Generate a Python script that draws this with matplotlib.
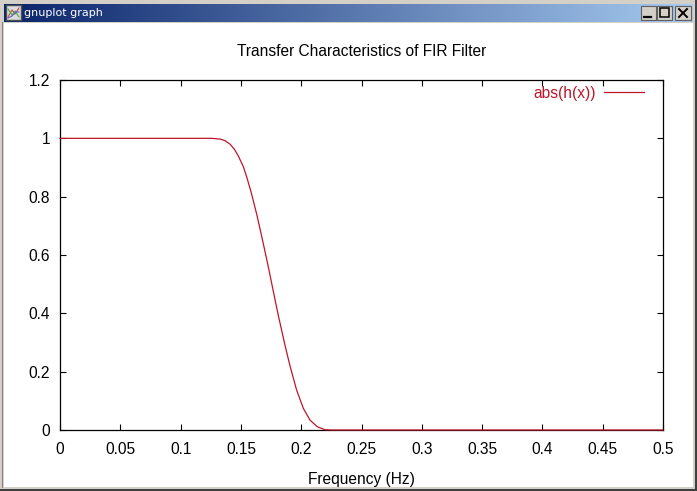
import matplotlib

matplotlib.use("Agg")
import matplotlib.pyplot as plt
import numpy as np
from matplotlib.patches import Rectangle

W, H = 697, 491

freq = [0.0, 0.05, 0.1, 0.125, 0.129, 0.1333, 0.1368, 0.141, 0.1445, 0.1478, 0.152, 0.1548,
        0.1585, 0.1631, 0.1672, 0.1722, 0.1769, 0.181, 0.1866, 0.1907, 0.1962, 0.2018,
        0.2073, 0.2134, 0.2197, 0.225, 0.3, 0.4, 0.5]
gain = [1.0, 1.0, 1.0, 1.0, 0.999, 0.997, 0.992, 0.98, 0.963, 0.94, 0.903, 0.868,
        0.815, 0.74, 0.665, 0.57, 0.475, 0.393, 0.29, 0.22, 0.137, 0.074,
        0.034, 0.011, 0.001, 0.0, 0.0, 0.0, 0.0]
x_ticks = [0, 0.05, 0.1, 0.15, 0.2, 0.25, 0.3, 0.35, 0.4, 0.45, 0.5]
x_labels = ["0", "0.05", "0.1", "0.15", "0.2", "0.25", "0.3", "0.35", "0.4", "0.45", "0.5"]
y_ticks = [0, 0.2, 0.4, 0.6, 0.8, 1, 1.2]
y_labels = ["0", "0.2", "0.4", "0.6", "0.8", "1", "1.2"]

RED = "#bf1528"
plt.rcParams["font.family"] = ["Liberation Sans", "DejaVu Sans"]


def draw_window(fig):
    # window frame, in pixel coordinates over the whole figure
    win = fig.add_axes([0, 0, 1, 1], zorder=0)
    win.set_xlim(0, W)
    win.set_ylim(H, 0)
    win.axis("off")
    win.add_patch(Rectangle((0, 0), W, H, color="#d4d0c8", lw=0))
    win.add_patch(Rectangle((0, H - 2), W, 2, color="#404040", lw=0))
    win.add_patch(Rectangle((W - 2, 0), 2, H, color="#404040", lw=0))
    win.add_patch(Rectangle((2, 22), 1, H - 25, color="#808080", lw=0))
    win.add_patch(Rectangle((4, 23), W - 8, H - 27, color="white", lw=0))

    grad = np.linspace(0, 1, 256).reshape(1, -1, 1)
    start = np.array([10, 36, 106]) / 255
    end = np.array([166, 202, 240]) / 255
    win.imshow(start + grad * (end - start), extent=(4, W - 4, 22, 4), aspect="auto", zorder=1)
    win.set_xlim(0, W)
    win.set_ylim(H, 0)
    win.text(24, 13, "gnuplot graph", color="white", fontsize=8, va="center", ha="left",
             family="DejaVu Sans", zorder=2)

    # icon
    win.add_patch(Rectangle((6, 5), 15, 15, facecolor="#dcdcdc", edgecolor="#505050", lw=1, zorder=2))
    win.plot([8, 12, 15, 19], [17, 10, 14, 8], color="#cc4444", lw=0.8, zorder=3)
    win.plot([8, 12, 15, 19], [9, 15, 11, 17], color="#44aa44", lw=0.8, zorder=3)
    win.plot([8, 12, 16, 19], [18, 16, 12, 12], color="#6666cc", lw=0.8, zorder=3)

    # min / max / close buttons
    for left, width in ((641, 15), (657, 15), (675, 16)):
        win.add_patch(Rectangle((left, 6), width, 14, facecolor="#d4d0c8", edgecolor="#606060", lw=0.8, zorder=2))
    win.plot([644, 651], [17, 17], color="black", lw=1.6, zorder=3)
    win.add_patch(Rectangle((660, 8), 9, 9, fill=False, edgecolor="black", lw=1.1, zorder=3))
    win.plot([679, 687], [9, 17], color="black", lw=1.4, zorder=3)
    win.plot([679, 687], [17, 9], color="black", lw=1.4, zorder=3)


def main():
    fig = plt.figure(figsize=(W / 100, H / 100), dpi=100)
    draw_window(fig)

    ax = fig.add_axes([60 / W, 1 - 430 / H, 603 / W, 350 / H], zorder=1)
    ax.patch.set_alpha(0)
    ax.plot(freq, gain, color=RED, lw=0.9, label="abs(h(x))", zorder=3, clip_on=False)
    ax.set_xlim(0, 0.5)
    ax.set_ylim(0, 1.2)
    ax.set_xticks(x_ticks, x_labels)
    ax.set_yticks(y_ticks, y_labels)
    ax.tick_params(direction="in", top=True, right=True, length=4, width=0.8, labelsize=11.2, color="black")
    ax.tick_params(axis="x", pad=9)
    ax.tick_params(axis="y", pad=7)
    for spine in ax.spines.values():
        spine.set_linewidth(0.9)
    ax.set_title("Transfer Characteristics of FIR Filter", fontsize=11.2, pad=17.5)
    ax.set_xlabel("Frequency (Hz)", fontsize=11.2, labelpad=10.5)
    ax.legend(loc="upper right", frameon=False, markerfirst=False, labelcolor=RED, fontsize=11.2,
              handlelength=2.57, handletextpad=0.5, borderaxespad=0, bbox_to_anchor=(0.978, 1.0015))

    fig.savefig("out.png", dpi=100)


if __name__ == "__main__":
    main()
